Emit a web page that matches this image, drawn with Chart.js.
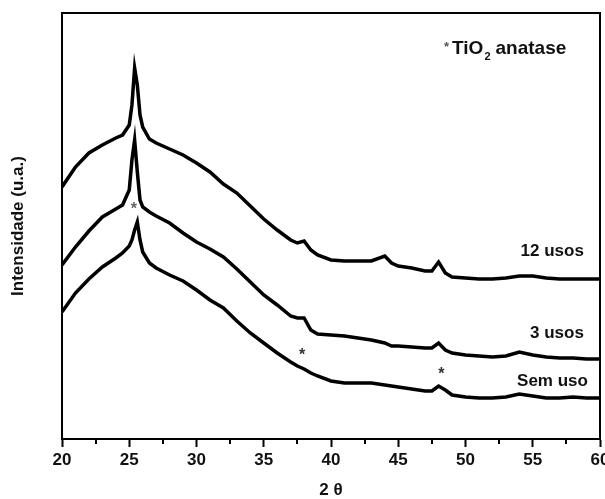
<!DOCTYPE html>
<html>
<head>
<meta charset="utf-8">
<script src="https://cdn.jsdelivr.net/npm/chart.js@4.4.1/dist/chart.umd.min.js"></script>
<style>
  html, body { margin: 0; padding: 0; background: #fff; }
</style>
</head>
<body>
<canvas id="xrdChart" width="605" height="499"></canvas>
<script>
// 2 theta positions (degrees)
const twoTheta = [20, 21, 22, 23, 24, 24.5, 25, 25.2, 25.4, 25.6, 25.8, 26, 26.5, 27, 28, 29, 30, 31, 32, 33, 34, 35, 36, 37, 37.5, 38, 38.5, 39, 40, 41, 42, 43, 44, 44.5, 45, 46, 47, 47.5, 48, 48.5, 49, 50, 51, 52, 53, 54, 55, 56, 57, 58, 59, 60];

// intensities (arbitrary units)
const usos12 = [252, 272, 286, 294, 301, 304, 314, 334, 371, 354, 324, 312, 300, 296, 290, 284, 276, 267, 255, 246, 233, 220, 209, 199, 196, 198, 189, 184, 179, 178, 178, 178, 183, 176, 173, 171, 168, 168, 177, 166, 162, 161, 160, 160, 161, 163, 163, 161, 160, 160, 160, 160];
const usos3 = [174, 192, 208, 222, 230, 234, 249, 279, 299, 267, 239, 232, 227, 223, 216, 206, 197, 190, 182, 170, 157, 144, 134, 123, 121, 121, 109, 105, 104, 103, 101, 99, 96, 93, 93, 92, 91, 91, 96, 89, 86, 84, 83, 82, 83, 87, 84, 82, 81, 81, 80, 80];
const semUso = [127, 146, 160, 172, 181, 186, 193, 199, 209, 217, 199, 187, 176, 171, 164, 158, 149, 139, 131, 118, 106, 96, 86, 77, 73, 70, 66, 63, 58, 56, 56, 56, 54, 53, 52, 50, 48, 48, 53, 49, 44, 42, 41, 41, 42, 45, 43, 41, 41, 42, 41, 41];

const xTicksMinor = [22.5, 27.5, 32.5, 37.5, 42.5, 47.5, 52.5, 57.5];

// text labels placed in data coordinates
const curveLabels = [
    { text: '12 usos', x: 58.8, y: 188 },
    { text: '3 usos', x: 58.8, y: 106 },
    { text: 'Sem uso', x: 59.1, y: 58 }
];
const starMarks = [
    { x: 25.35, y: 232, color: '#666' },
    { x: 37.85, y: 86, color: '#333' },
    { x: 48.2, y: 67, color: '#333' }
];

const FONT = 'Liberation Sans, Arial, sans-serif';

const toPoints = (ys) => twoTheta.map((t, i) => ({ x: t, y: ys[i] }));

const line = (label, ys) => ({
    label: label,
    data: toPoints(ys),
    borderColor: '#000',
    borderWidth: 3.5,
    pointRadius: 0,
    tension: 0,
    fill: false
});

const decorPlugin = {
    id: 'decor',
    afterDraw(chart) {
        const { ctx, chartArea: a, scales: { x, y } } = chart;
        ctx.save();

        // box round the plot
        ctx.strokeStyle = '#000';
        ctx.lineWidth = 2;
        ctx.strokeRect(a.left, a.top, a.right - a.left, a.bottom - a.top);

        // short minor ticks
        xTicksMinor.forEach(v => {
            const px = Math.round(x.getPixelForValue(v));
            ctx.beginPath();
            ctx.moveTo(px, a.bottom);
            ctx.lineTo(px, a.bottom + 5);
            ctx.stroke();
        });

        // curve names
        ctx.fillStyle = '#111';
        ctx.font = 'bold 17px ' + FONT;
        ctx.textAlign = 'right';
        ctx.textBaseline = 'middle';
        curveLabels.forEach(l => {
            ctx.fillText(l.text, x.getPixelForValue(l.x), y.getPixelForValue(l.y));
        });

        // stars
        ctx.textAlign = 'center';
        ctx.font = 'bold 16px ' + FONT;
        starMarks.forEach(s => {
            ctx.fillStyle = s.color;
            ctx.fillText('*', x.getPixelForValue(s.x), y.getPixelForValue(s.y) + 3);
        });

        // "* TiO2 anatase" note
        let px = a.left + 382;
        const base = a.top + 41;
        ctx.textAlign = 'left';
        ctx.textBaseline = 'alphabetic';
        ctx.fillStyle = '#555';
        ctx.font = 'bold 13px ' + FONT;
        ctx.fillText('*', px, base - 3);
        px += ctx.measureText('*').width + 3;
        ctx.fillStyle = '#111';
        ctx.font = 'bold 19px ' + FONT;
        ctx.fillText('TiO', px, base);
        px += ctx.measureText('TiO').width + 1;
        ctx.font = 'bold 11px ' + FONT;
        ctx.fillText('2', px, base + 6);
        px += ctx.measureText('2').width + 5;
        ctx.font = 'bold 19px ' + FONT;
        ctx.fillText('anatase', px, base);

        ctx.restore();
    }
};

new Chart(document.getElementById('xrdChart'), {
    type: 'line',
    data: {
        datasets: [
            line('12 usos', usos12),
            line('3 usos', usos3),
            line('Sem uso', semUso)
        ]
    },
    options: {
        responsive: false,
        animation: false,
        layout: { padding: { top: 13, right: 5, bottom: 0, left: 0 } },
        plugins: {
            legend: { display: false },
            tooltip: { enabled: false }
        },
        scales: {
            x: {
                type: 'linear',
                min: 20,
                max: 60,
                afterFit(axis) {
                    axis.height = 60;
                    axis.paddingLeft = 0;
                    axis.paddingRight = 0;
                },
                ticks: {
                    stepSize: 5,
                    color: '#111',
                    padding: 3,
                    maxRotation: 0,
                    autoSkip: false,
                    font: { family: FONT, size: 17, weight: 'bold' }
                },
                grid: {
                    drawOnChartArea: false,
                    drawTicks: true,
                    tickLength: 8,
                    tickWidth: 2,
                    tickColor: '#000'
                },
                border: { display: true, color: '#000', width: 2 },
                title: {
                    display: true,
                    text: '2 θ',
                    color: '#111',
                    padding: 0,
                    font: { family: FONT, size: 17, weight: 'bold', lineHeight: 1 }
                }
            },
            y: {
                min: 0,
                max: 426,
                afterFit(axis) {
                    axis.width = 62;
                },
                ticks: { display: false },
                grid: { display: false },
                border: { display: true, color: '#000', width: 2 },
                title: {
                    display: true,
                    text: 'Intensidade (u.a.)',
                    color: '#111',
                    padding: { top: 8, bottom: 0 },
                    font: { family: FONT, size: 17, weight: 'bold' }
                }
            }
        }
    },
    plugins: [decorPlugin]
});
</script>
</body>
</html>
